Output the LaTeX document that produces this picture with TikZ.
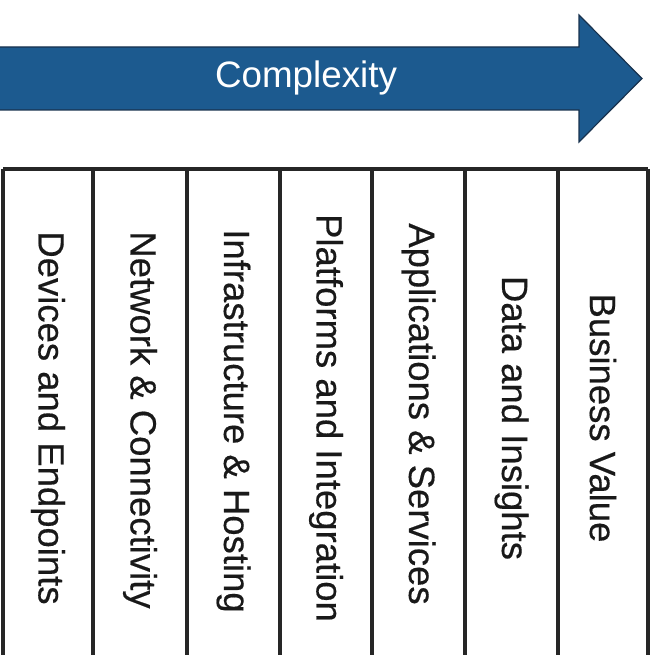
\documentclass[tikz,border=0pt]{standalone}
\usepackage{fontspec}
\newfontfamily\labfont{Liberation Sans}
\newfontfamily\colfont[FakeBold=0.4]{Liberation Sans}
\definecolor{arrowblue}{HTML}{1C5A8F}
\definecolor{arrowedge}{HTML}{18324E}
\definecolor{linegray}{HTML}{262626}
\begin{document}
\begin{tikzpicture}[x=1pt,y=-1pt,
  collabel/.style={rotate=-90,inner sep=0pt,text=black!90,font=\colfont\fontsize{36.5}{40}\selectfont},
  colline/.style={draw=linegray,line width=3.2pt},
  arrowtext/.style={text=white,inner sep=0pt,font=\labfont\fontsize{36.8}{40}\selectfont}]
\useasboundingbox (0,0) rectangle (654,655);
% arrow
\draw[fill=arrowblue,draw=arrowedge,line width=1.2pt,line join=miter]
  (-2,47) -- (579,47) -- (579,15) -- (642,78.5) -- (579,142) -- (579,110) -- (-2,110) -- cycle;
\node[arrowtext] (cx) at (306,78) {Complexity};
% columns
\foreach \i/\x in {0/3,1/93,2/187,3/280,4/372,5/465,6/558,7/648}{
  \coordinate (t\i) at (\x,169);
  \coordinate (b\i) at (\x,660);
}
\draw[colline] (t0) -- (t7);
\foreach \i in {0,...,7}{\draw[colline] (t\i) -- (b\i);}
\node[collabel] (l1) at (48,418) {Devices and Endpoints};
\node[collabel] (l2) at (140,420) {Network \& Connectivity};
\node[collabel] (l3) at (233.5,421) {Infrastructure \& Hosting};
\node[collabel] (l4) at (326,418) {Platforms and Integration};
\node[collabel] (l5) at (418.5,414) {Applications \& Services};
\node[collabel] (l6) at (511.5,418) {Data and Insights};
\node[collabel] (l7) at (603,418) {Business Value};
\end{tikzpicture}
\end{document}
